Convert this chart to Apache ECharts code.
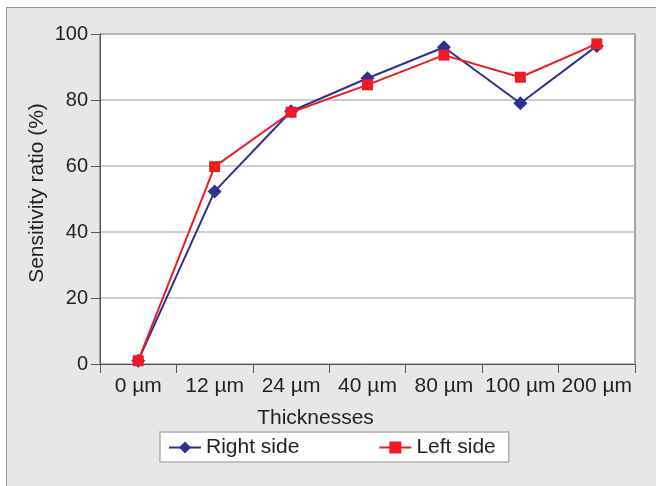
<!DOCTYPE html>
<html><head><meta charset="utf-8">
<script src="https://cdn.jsdelivr.net/npm/echarts@6/dist/echarts.min.js"></script>
<style>
html,body{margin:0;padding:0;background:#fff;}
#frame{position:absolute;left:6px;top:7px;width:650px;height:479px;background:#e6e7e9;border-top:1px solid #9a9a9a;border-left:1px solid #9a9a9a;box-sizing:border-box;}
#c{position:absolute;left:0;top:0;width:656px;height:486px;}
</style></head>
<body>
<div id="frame"></div>
<div id="c"></div>
<script>
const categories = ['0 µm','12 µm','24 µm','40 µm','80 µm','100 µm','200 µm'];
const rightSide = [1, 52.3, 76.6, 86.6, 96, 79, 96.4];
const leftSide = [1, 59.8, 76.3, 84.6, 93.6, 86.9, 97];
const yTicks = {min:0, max:100, interval:20};

const FONT = 'Liberation Sans, Arial, sans-serif';
const TXT = '#231f20';
const chart = echarts.init(document.getElementById('c'), null, {renderer:'canvas'});
chart.setOption({
  backgroundColor:'transparent',
  animation:false,
  textStyle:{fontFamily:FONT},
  grid:{left:100, top:34, right:21, bottom:122, show:true, backgroundColor:'#fff', borderColor:'#555', borderWidth:1},
  xAxis:{
    type:'category', data:categories, boundaryGap:true,
    name:'Thicknesses', nameLocation:'middle', nameGap:44, nameMoveOverlap:false,
    nameTextStyle:{fontSize:21, color:TXT, fontFamily:FONT, padding:[0,104,0,0], verticalAlign:'top'},
    axisLine:{lineStyle:{color:'#555', width:1}},
    axisTick:{show:true, interval:0, length:9, lineStyle:{color:'#555'}},
    axisLabel:{interval:0, fontSize:21, color:TXT, fontFamily:FONT, margin:12},
    splitLine:{show:false}
  },
  yAxis:{
    type:'value', min:yTicks.min, max:yTicks.max, interval:yTicks.interval,
    name:'Sensitivity ratio (%)', nameLocation:'middle', nameGap:52, nameMoveOverlap:false,
    nameTextStyle:{fontSize:21, color:TXT, fontFamily:FONT, padding:[0,0,0,12]},
    axisLine:{show:true, lineStyle:{color:'#555', width:1}},
    axisTick:{show:true, length:9, lineStyle:{color:'#555'}},
    axisLabel:{fontSize:20, color:TXT, fontFamily:FONT, margin:12},
    splitLine:{show:true, lineStyle:{color:'#bdbdbd', width:1.5}}
  },
  legend:{
    left:160, top:432, orient:'horizontal',
    padding:[5,13,4,8], itemGap:79, itemWidth:32, itemHeight:15,
    borderColor:'#b0b0b0', borderWidth:1.5, backgroundColor:'#fff', borderRadius:0,
    textStyle:{fontSize:21, color:TXT, fontFamily:FONT},
    data:['Right side','Left side']
  },
  series:[
    {name:'Right side', type:'line', data:rightSide, symbol:'diamond', symbolSize:14,
     lineStyle:{color:'#2e3192', width:2}, itemStyle:{color:'#2e3192'}, z:2},
    {name:'Left side', type:'line', data:leftSide, symbol:'rect', symbolSize:11,
     lineStyle:{color:'#ed1c24', width:2}, itemStyle:{color:'#ed1c24'}, z:3}
  ]
});
</script>
</body></html>
